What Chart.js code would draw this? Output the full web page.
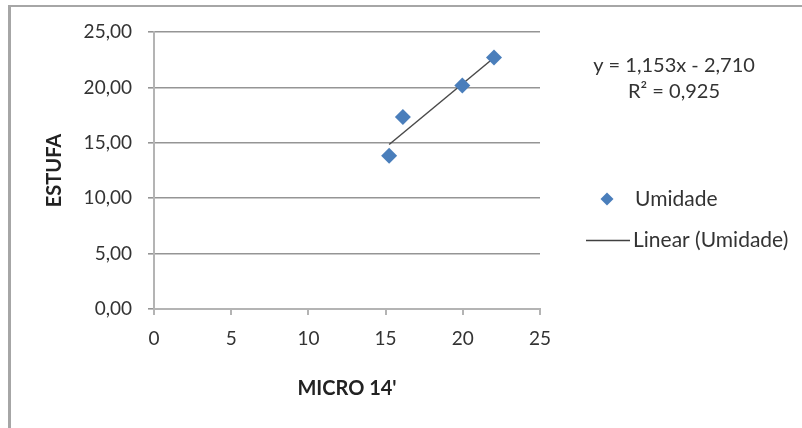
<!DOCTYPE html>
<html>
<head>
<meta charset="utf-8">
<script src="https://cdn.jsdelivr.net/npm/chart.js@4/dist/chart.umd.min.js"></script>
<style>
  html, body { margin: 0; padding: 0; background: #fff; }
  #wrap { position: relative; width: 802px; height: 428px; }
  canvas { display: block; }
</style>
</head>
<body>
<div id="wrap"><canvas id="c" width="802" height="428"></canvas></div>
<script>
// ---- data ----
const seriesName = 'Umidade';
const trendName = 'Linear (Umidade)';
const microX = [15.23, 16.12, 19.97, 22.02];
const estufaY = [13.83, 17.32, 20.17, 22.70];
const trendSlope = 1.153;
const trendIntercept = -2.710;
const equationLines = ['y = 1,153x - 2,710', 'R\u00B2 = 0,925'];
const xTickLabels = ['0', '5', '10', '15', '20', '25'];
const yTickLabels = ['0,00', '5,00', '10,00', '15,00', '20,00', '25,00'];
const xTitle = "MICRO 14'";
const yTitle = 'ESTUFA';

// ---- build ----
const points = microX.map((x, i) => ({ x: x, y: estufaY[i] }));
const xMin = Math.min(...microX), xMax = Math.max(...microX);
const trendPoints = [xMin, xMax].map(x => ({ x: x, y: trendSlope * x + trendIntercept }));

const FONT = 'Lato, "Open Sans", sans-serif';
const TEXT = '#333333';
const GRID = '#959595';
const AXIS = '#b4b4b4';
const BLUE = '#4a7ebb';

const decor = {
  id: 'decor',
  beforeDraw(chart) {
    const ctx = chart.ctx;
    ctx.save();
    ctx.fillStyle = '#a6a6a6';
    ctx.fillRect(8, 5, 3, 428 - 5);
    ctx.fillRect(8, 5, 802 - 8, 2);
    ctx.restore();
  },
  afterDraw(chart) {
    const ctx = chart.ctx;
    ctx.save();
    ctx.fillStyle = TEXT;
    ctx.font = '20px ' + FONT;
    ctx.textAlign = 'center';
    ctx.textBaseline = 'middle';
    ctx.fillText(equationLines[0], 674, 66);
    ctx.fillText(equationLines[1], 674, 92);

    ctx.font = '21px ' + FONT;
    // legend: marker entry
    ctx.fillStyle = BLUE;
    ctx.beginPath();
    const cx = 607, cy = 199, r = 6.5;
    ctx.moveTo(cx, cy - r); ctx.lineTo(cx + r, cy); ctx.lineTo(cx, cy + r); ctx.lineTo(cx - r, cy);
    ctx.closePath(); ctx.fill();
    ctx.fillStyle = TEXT;
    ctx.textAlign = 'left';
    ctx.fillText(seriesName, 635, 199);
    // legend: trend line entry
    ctx.strokeStyle = '#404040';
    ctx.lineWidth = 1.3;
    ctx.beginPath(); ctx.moveTo(586, 240.5); ctx.lineTo(630, 240.5); ctx.stroke();
    ctx.fillText(trendName, 633, 240);
    ctx.restore();
  }
};

new Chart(document.getElementById('c'), {
  type: 'scatter',
  data: {
    datasets: [
      {
        label: trendName,
        data: trendPoints,
        showLine: true,
        borderColor: '#4a4a4a',
        borderWidth: 1.5,
        pointRadius: 0,
        fill: false,
        order: 2
      },
      {
        label: seriesName,
        data: points,
        pointStyle: 'rectRot',
        pointRadius: 8,
        backgroundColor: BLUE,
        borderColor: BLUE,
        borderWidth: 0,
        order: 1
      }
    ]
  },
  options: {
    responsive: false,
    animation: false,
    events: [],
    layout: { padding: { left: 0, right: 262, top: 32, bottom: 0 } },
    plugins: { legend: { display: false }, tooltip: { enabled: false } },
    scales: {
      x: {
        type: 'linear', min: 0, max: 25,
        ticks: {
          stepSize: 5, color: TEXT, padding: 12,
          font: { family: FONT, size: 19 },
          callback: (v) => xTickLabels[Math.round(v / 5)]
        },
        grid: { display: true, drawOnChartArea: false, drawTicks: true, tickLength: 6, color: AXIS, lineWidth: 2 },
        border: { color: AXIS, width: 2 },
        title: { display: true, text: xTitle, color: '#222', padding: { top: 0, bottom: 27 }, font: { family: FONT, size: 20, weight: 'bold' } },
        afterFit(s) { s.height = 119; }
      },
      y: {
        type: 'linear', min: 0, max: 25,
        ticks: {
          stepSize: 5, color: TEXT, padding: 16,
          font: { family: FONT, size: 19 },
          callback: (v) => yTickLabels[Math.round(v / 5)]
        },
        grid: { color: GRID, lineWidth: 1.6, tickLength: 6, drawTicks: true },
        border: { color: AXIS, width: 2 },
        title: { display: true, text: yTitle, color: '#222', padding: { top: 43, bottom: 0 }, font: { family: FONT, size: 20, weight: 'bold' } },
        afterFit(s) { s.width = 154; }
      }
    }
  },
  plugins: [decor]
});
</script>
</body>
</html>
